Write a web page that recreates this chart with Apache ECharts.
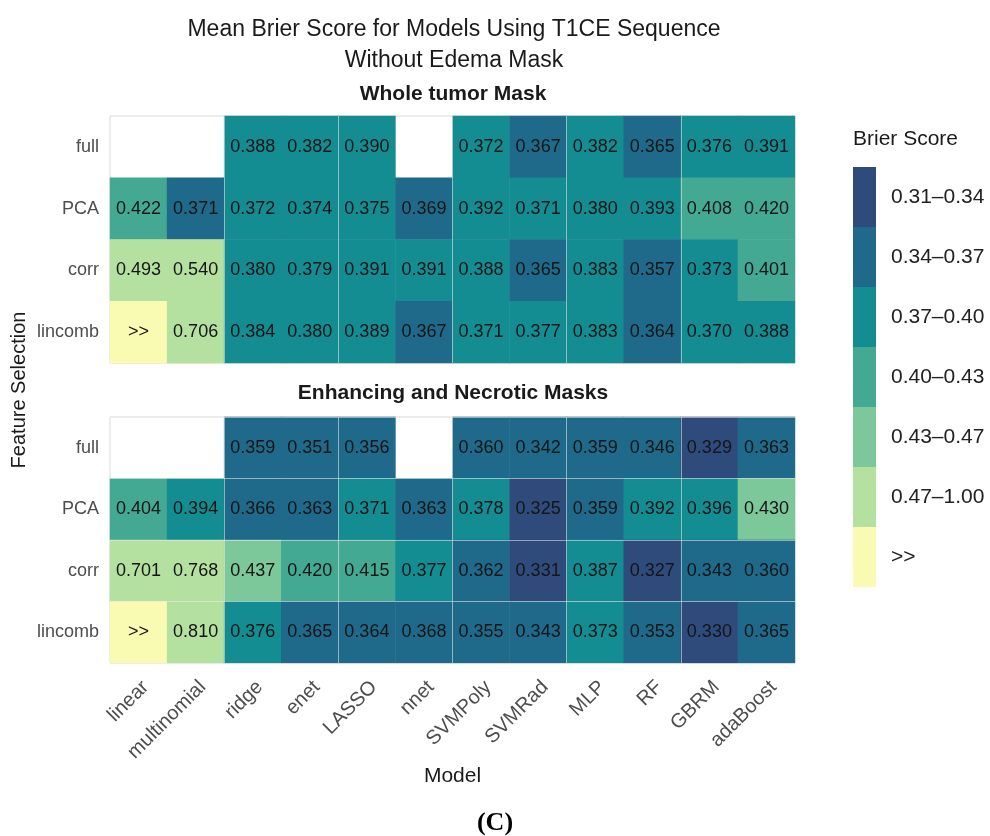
<!DOCTYPE html>
<html>
<head>
<meta charset="utf-8">
<script src="https://cdn.jsdelivr.net/npm/echarts@6/dist/echarts.min.js"></script>
<style>
  html, body { margin: 0; padding: 0; background: #fff; }
  #chart { width: 990px; height: 836px; }
</style>
</head>
<body>
<div id="chart"></div>
<script>
// categories
const models = ['linear', 'multinomial', 'ridge', 'enet', 'LASSO', 'nnet', 'SVMPoly', 'SVMRad', 'MLP', 'RF', 'GBRM', 'adaBoost'];
const selections = ['full', 'PCA', 'corr', 'lincomb'];

// Whole tumor Mask (null = no cell, '>>' = off scale)
const wholeFull    = [null, null, 0.388, 0.382, 0.390, null, 0.372, 0.367, 0.382, 0.365, 0.376, 0.391];
const wholePCA     = [0.422, 0.371, 0.372, 0.374, 0.375, 0.369, 0.392, 0.371, 0.380, 0.393, 0.408, 0.420];
const wholeCorr    = [0.493, 0.540, 0.380, 0.379, 0.391, 0.391, 0.388, 0.365, 0.383, 0.357, 0.373, 0.401];
const wholeLincomb = ['>>', 0.706, 0.384, 0.380, 0.389, 0.367, 0.371, 0.377, 0.383, 0.364, 0.370, 0.388];

// Enhancing and Necrotic Masks
const enhFull    = [null, null, 0.359, 0.351, 0.356, null, 0.360, 0.342, 0.359, 0.346, 0.329, 0.363];
const enhPCA     = [0.404, 0.394, 0.366, 0.363, 0.371, 0.363, 0.378, 0.325, 0.359, 0.392, 0.396, 0.430];
const enhCorr    = [0.701, 0.768, 0.437, 0.420, 0.415, 0.377, 0.362, 0.331, 0.387, 0.327, 0.343, 0.360];
const enhLincomb = ['>>', 0.810, 0.376, 0.365, 0.364, 0.368, 0.355, 0.343, 0.373, 0.353, 0.330, 0.365];

// legend bins
const binUpper = [0.34, 0.37, 0.40, 0.43, 0.47, 1.00];
const binLabels = ['0.31\u20130.34', '0.34\u20130.37', '0.37\u20130.40', '0.40\u20130.43', '0.43\u20130.47', '0.47\u20131.00', '>>'];
const binColors = ['#2f4b7c', '#1f6a8a', '#148d92', '#43a993', '#7cc89b', '#b5e1a0', '#f9fbb2'];
// cell drawn in another bin than its rounded label says
const binOverride = [{ panel: 0, row: 'PCA', model: 'multinomial', bin: 1 }];

const panels = [
  [wholeFull, wholePCA, wholeCorr, wholeLincomb],
  [enhFull, enhPCA, enhCorr, enhLincomb]
];

function binOf(v) {
  if (v === '>>') return 6;
  for (let i = 0; i < binUpper.length; i++) {
    if (v < binUpper[i]) return i;
  }
  return 5;
}

function cells(p) {
  const out = [];
  panels[p].forEach((row, r) => {
    row.forEach((v, c) => {
      if (v === null) return;
      let bin = binOf(v);
      binOverride.forEach(o => {
        if (o.panel === p && o.row === selections[r] && o.model === models[c]) bin = o.bin;
      });
      out.push([c, r, bin, v === '>>' ? '>>' : v.toFixed(3)]);
    });
  });
  return out;
}

const font = 'Liberation Sans, Arial, sans-serif';
const gridLine = { show: true, lineStyle: { color: 'rgba(235,235,235,0.55)', width: 1 } };

function xAxis(g, showLabels) {
  return {
    type: 'category', gridIndex: g, data: models, z: 3,
    axisLine: { show: false }, axisTick: { show: false },
    axisLabel: showLabels ? {
      rotate: 45, fontSize: 20, color: '#4d4d4d', fontFamily: font, margin: 14, interval: 0,
      align: 'right', verticalAlign: 'top'
    } : { show: false },
    splitLine: Object.assign({ interval: (i) => i > 0 && i % 2 === 0 }, gridLine),
    name: showLabels ? 'Model' : '',
    nameLocation: 'middle', nameGap: 102,
    nameTextStyle: { fontSize: 21, color: '#1a1a1a', fontFamily: font }
  };
}

function yAxis(g, lines) {
  return {
    type: 'category', gridIndex: g, data: selections, inverse: true, z: 3,
    axisLine: { show: false }, axisTick: { show: false },
    axisLabel: { fontSize: 18, color: '#4d4d4d', fontFamily: font, margin: 11 },
    splitLine: lines ? Object.assign({ interval: 0 }, gridLine) : { show: false }
  };
}

function series(p) {
  return {
    type: 'heatmap', xAxisIndex: p, yAxisIndex: p, data: cells(p),
    label: {
      show: true, formatter: (d) => d.data[3],
      fontSize: 18, color: '#151515', fontFamily: font
    },
    itemStyle: { borderWidth: 0 },
    emphasis: { disabled: true }
  };
}

const chart = echarts.init(document.getElementById('chart'));
chart.setOption({
  backgroundColor: '#fff',
  animation: false,
  title: [
    {
      text: 'Mean Brier Score for Models Using T1CE Sequence\nWithout Edema Mask',
      left: 449, top: 9, textAlign: 'center',
      textStyle: { fontSize: 23, fontWeight: 'normal', color: '#1a1a1a', fontFamily: font, lineHeight: 31 }
    },
    {
      text: 'Whole tumor Mask', left: 448, top: 79, textAlign: 'center',
      textStyle: { fontSize: 21, fontWeight: 'bold', color: '#1a1a1a', fontFamily: font }
    },
    {
      text: 'Enhancing and Necrotic Masks', left: 448, top: 378, textAlign: 'center',
      textStyle: { fontSize: 21, fontWeight: 'bold', color: '#1a1a1a', fontFamily: font }
    },
    {
      text: 'Brier Score', left: 848, top: 124,
      textStyle: { fontSize: 21, fontWeight: 'normal', color: '#1a1a1a', fontFamily: font }
    }
  ],
  grid: [
    { left: 110, top: 116, width: 685, height: 247, show: true, borderColor: '#d9d9d9', borderWidth: 1, backgroundColor: 'transparent' },
    { left: 110, top: 417, width: 685, height: 246, show: true, borderColor: '#d9d9d9', borderWidth: 1, backgroundColor: 'transparent' }
  ],
  xAxis: [xAxis(0, false), xAxis(1, true)],
  yAxis: [yAxis(0, false), yAxis(1, true)],
  visualMap: {
    type: 'piecewise', dimension: 2, seriesIndex: [0, 1],
    pieces: binLabels.map((l, i) => ({ value: i, label: l, color: binColors[i] })),
    orient: 'vertical', inverse: true, left: 838, top: 152,
    itemWidth: 23, itemHeight: 60, itemGap: 0, itemSymbol: 'rect',
    align: 'left', textGap: 15,
    selectedMode: false,
    textStyle: { fontSize: 21, color: '#222', fontFamily: font }
  },
  graphic: [
    {
      type: 'text', x: 19, y: 390, rotation: Math.PI / 2,
      style: { text: 'Feature Selection', font: '20px ' + font, fill: '#1a1a1a', textAlign: 'center', textVerticalAlign: 'middle' }
    },
    {
      type: 'text', x: 495, y: 823,
      style: { text: '(C)', font: 'bold 26px Liberation Serif, serif', fill: '#000', textAlign: 'center', textVerticalAlign: 'middle' }
    }
  ],
  series: [series(0), series(1)]
});
</script>
</body>
</html>
